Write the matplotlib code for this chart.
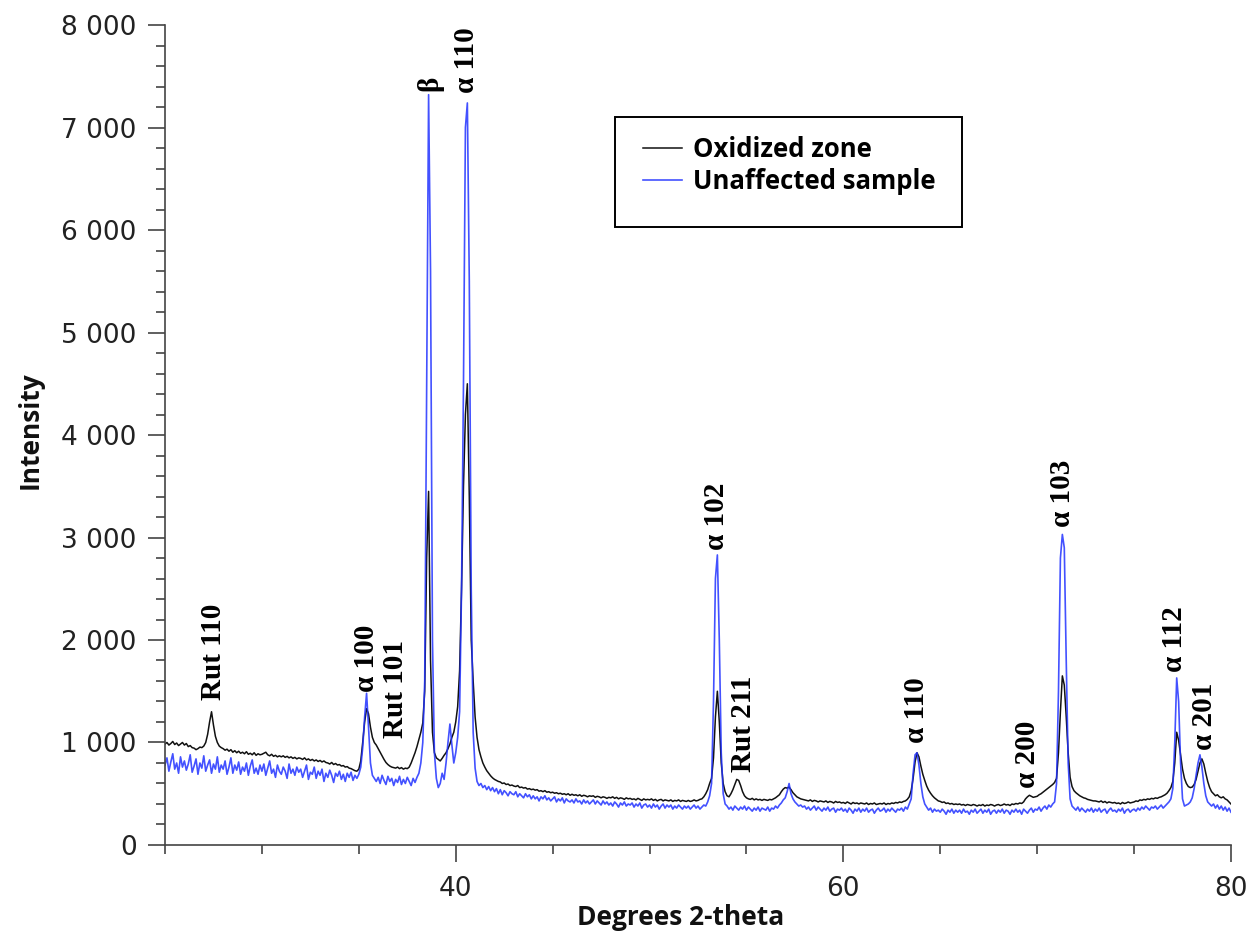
import numpy as np
import matplotlib.pyplot as plt
from matplotlib.ticker import FuncFormatter, MultipleLocator
from matplotlib.patches import Rectangle

# 2-theta grid: 25.0 .. 80.0 deg, 0.1 deg step (one row = one degree)
theta_start = 25.0
theta_step = 0.1

oxidized = [
    985, 1000, 975, 990, 1010, 980, 995, 970, 985, 1000,
    975, 990, 960, 970, 950, 945, 930, 940, 955, 950,
    965, 1000, 1080, 1200, 1300, 1170, 1060, 1000, 965, 950,
    940, 925, 935, 915, 930, 905, 920, 900, 915, 895,
    905, 890, 910, 885, 895, 880, 900, 875, 890, 880,
    885, 895, 905, 880, 870, 885, 865, 875, 860, 870,
    860, 870, 855, 865, 850, 860, 845, 855, 840, 850,
    845, 835, 850, 830, 840, 825, 835, 820, 830, 815,
    825, 810, 820, 805, 800, 790, 805, 785, 795, 780,
    785, 770, 775, 760, 765, 750, 745, 735, 725, 720,
    740, 820, 1000, 1200, 1330, 1280, 1150, 1050, 1000, 975,
    940, 905, 870, 835, 805, 785, 770, 760, 755, 750,
    760, 745, 755, 740, 750, 745, 760, 800, 850, 900,
    960, 1030, 1100, 1190, 1500, 2800, 3450, 1800, 1100, 900,
    850, 835, 820, 845, 875, 900, 940, 985, 1050, 1100,
    1200, 1350, 1700, 2500, 3500, 4200, 4500, 3400, 2000, 1600,
    1250, 1050, 930, 860, 800, 760, 725, 700, 675, 655,
    640, 630, 620, 615, 600, 605, 590, 595, 580, 585,
    575, 570, 580, 560, 565, 555, 560, 545, 550, 540,
    545, 535, 540, 525, 530, 520, 530, 515, 520, 510,
    515, 505, 510, 500, 505, 495, 500, 490, 500, 485,
    495, 485, 490, 480, 490, 475, 485, 480, 470, 480,
    475, 480, 465, 475, 470, 460, 470, 465, 455, 465,
    460, 470, 455, 465, 450, 460, 455, 445, 460, 450,
    455, 445, 450, 440, 455, 445, 435, 450, 440, 445,
    440, 450, 435, 445, 430, 440, 445, 430, 440, 435,
    430, 440, 425, 435, 430, 440, 425, 435, 430, 425,
    435, 425, 430, 440, 430, 435, 445, 450, 470, 500,
    540, 600, 650, 850, 1250, 1500, 1200, 800, 600, 520,
    480, 470, 500, 540, 590, 640, 630, 580, 520, 480,
    460, 450, 445, 455, 440, 450, 440, 445, 435, 445,
    440, 435, 445, 440, 450, 460, 475, 490, 520, 545,
    560, 555, 565, 540, 510, 490, 470, 460, 450, 445,
    440, 435, 430, 440, 425, 435, 430, 420, 430, 425,
    420, 430, 415, 425, 420, 410, 425, 415, 420, 410,
    415, 405, 420, 410, 400, 415, 405, 410, 400, 410,
    405, 400, 410, 395, 405, 400, 410, 395, 400, 405,
    400, 410, 395, 405, 400, 410, 405, 415, 410, 420,
    415, 425, 430, 445, 470, 530, 650, 810, 900, 860,
    770, 690, 630, 575, 535, 505, 480, 460, 445, 430,
    425, 415, 420, 405, 410, 400, 405, 395, 400, 395,
    400, 390, 395, 385, 395, 390, 385, 395, 390, 380,
    390, 385, 395, 380, 390, 385, 395, 390, 380, 390,
    395, 385, 390, 400, 390, 395, 385, 400, 395, 405,
    400, 410, 405, 420, 450, 470, 485, 475, 465, 470,
    475, 490, 500, 515, 530, 545, 560, 575, 590, 610,
    650, 900, 1300, 1650, 1560, 1250, 900, 660, 570, 530,
    510, 495, 480, 470, 460, 455, 445, 440, 435, 430,
    430, 425, 420, 430, 415, 425, 410, 420, 415, 410,
    415, 405, 410, 400, 415, 405, 410, 420, 410, 415,
    420, 430, 425, 440, 435, 445, 440, 450, 445, 455,
    450, 460, 455, 465, 470, 480, 490, 505, 530, 560,
    620, 800, 1100, 1020, 880, 740, 650, 600, 570, 560,
    565, 590, 640, 720, 800, 840, 790, 700, 620, 560,
    520, 500, 480, 490, 470, 460, 470, 450, 440, 420,
    400,
]

unaffected = [
    780, 850, 720, 810, 890, 740, 800, 700, 860, 760,
    820, 730, 790, 880, 710, 770, 840, 690, 800, 750,
    870, 720, 780, 830, 700, 790, 740, 860, 710, 780,
    740, 820, 690, 760, 850, 700, 780, 730, 810, 690,
    760, 720, 800, 680, 770, 830, 700, 750, 690, 780,
    720, 790, 680, 750, 820, 700, 740, 660, 780, 720,
    690, 760, 720, 650, 790, 700, 740, 680, 760, 710,
    740, 660, 720, 780, 640, 710, 690, 760, 650, 720,
    680, 740, 620, 700, 660, 730, 680, 610, 700, 670,
    720, 640, 690, 620, 700, 660, 710, 630, 680, 650,
    690, 760, 950, 1250, 1480, 1150, 800, 680, 650, 620,
    660, 600, 680, 630, 590, 670, 620, 650, 580, 640,
    610, 670, 590, 640, 600, 660, 620, 580, 650, 610,
    660, 700, 800, 1000, 1600, 4500, 7320, 5600, 2000, 900,
    650, 560, 600, 700, 640, 800, 1000, 1180, 980, 800,
    900, 1050, 1300, 2500, 4500, 7000, 7240, 5500, 2500, 1100,
    750, 620, 580, 600, 560, 580, 540, 570, 530, 560,
    520, 550, 500, 540, 490, 530, 510, 480, 520, 500,
    490, 520, 470, 500, 480, 460, 500, 470, 490, 450,
    480, 450, 470, 430, 470, 450, 480, 440, 460, 430,
    450, 470, 420, 450, 430, 460, 410, 450, 430, 420,
    440, 410, 450, 420, 430, 400, 440, 410, 430, 400,
    420, 440, 400, 430, 410, 390, 430, 400, 420, 390,
    410, 380, 420, 400, 370, 410, 390, 420, 380, 400,
    390, 410, 370, 400, 380, 410, 360, 390, 400, 370,
    390, 360, 400, 370, 390, 350, 380, 400, 360, 390,
    370, 390, 350, 380, 360, 390, 370, 350, 380, 360,
    380, 350, 370, 390, 360, 380, 350, 370, 390, 380,
    420, 480, 600, 1400, 2600, 2830, 2000, 900, 500, 400,
    380, 350, 370, 340, 380, 360, 340, 370, 350, 380,
    340, 370, 350, 330, 360, 340, 370, 330, 360, 350,
    340, 370, 330, 360, 350, 380, 360, 390, 410, 440,
    460, 520, 600, 500, 450, 420, 400, 380, 390, 370,
    380, 350, 370, 340, 360, 380, 340, 370, 350, 330,
    360, 340, 370, 330, 350, 360, 320, 350, 340, 360,
    330, 350, 320, 360, 340, 310, 350, 330, 360, 320,
    350, 330, 360, 320, 340, 350, 310, 340, 360, 330,
    340, 360, 320, 350, 330, 360, 340, 320, 350, 340,
    360, 330, 370, 350, 400, 450, 700, 880, 900, 780,
    600, 470, 400, 370, 340, 360, 320, 350, 330, 340,
    320, 350, 330, 300, 340, 320, 350, 310, 340, 320,
    340, 310, 350, 320, 330, 300, 340, 320, 350, 310,
    330, 350, 310, 340, 320, 350, 300, 330, 340, 310,
    340, 320, 350, 310, 340, 330, 300, 340, 320, 350,
    320, 340, 300, 350, 330, 310, 340, 360, 320, 350,
    340, 370, 330, 360, 380, 350, 390, 370, 400, 420,
    600, 1500, 2800, 3030, 2900, 1800, 800, 450, 380, 360,
    340, 370, 330, 360, 340, 320, 350, 330, 360, 320,
    350, 330, 360, 320, 340, 350, 310, 340, 360, 330,
    340, 320, 350, 330, 360, 310, 340, 350, 320, 340,
    350, 330, 360, 340, 370, 350, 380, 360, 340, 370,
    360, 380, 350, 370, 390, 360, 380, 400, 420, 450,
    550, 1000, 1630, 1400, 800, 450, 380, 390, 400, 420,
    460, 550, 680, 800, 880, 760, 600, 480, 420, 400,
    380, 400, 360, 390, 350, 380, 340, 370, 330, 360,
    320,
]

# peak labels: text, 2-theta, intensity at the lower end of the label
peak_names = ["Rut 110", "α 100", "Rut 101", "β", "α 110", "α 102", "Rut 211",
              "α 110", "α 200", "α 103", "α 112", "α 201"]
peak_pos = [27.5, 35.4, 36.9, 38.65, 40.57, 53.45, 54.85, 63.8, 69.5, 71.3, 77.1, 78.65]
peak_lab_y = [1415, 1490, 1045, 7360, 7340, 2880, 710, 995, 555, 3100, 1690, 925]

x = np.round(theta_start + theta_step * np.arange(len(oxidized)), 1)

fig = plt.figure(figsize=(12.52, 9.34), dpi=100)
ax = fig.add_axes([0.1318, 0.0953, 0.8514, 0.8779])

ax.plot(x, oxidized, color="#111111", linewidth=1.1, label="Oxidized zone")
ax.plot(x, unaffected, color="#2233ff", linewidth=1.2, alpha=0.85,
        label="Unaffected sample")

ax.set_xlim(25, 80)
ax.set_ylim(0, 8000)

for s in ["top", "right"]:
    ax.spines[s].set_visible(False)
for s in ["left", "bottom"]:
    ax.spines[s].set_color("#444444")
    ax.spines[s].set_linewidth(1.2)

ax.xaxis.set_major_locator(MultipleLocator(20))
ax.xaxis.set_minor_locator(MultipleLocator(5))
ax.yaxis.set_major_locator(MultipleLocator(1000))
ax.yaxis.set_minor_locator(MultipleLocator(200))
ax.yaxis.set_major_formatter(FuncFormatter(lambda v, p: f"{int(v):,}".replace(",", " ")))

ax.tick_params(which="major", length=12.5, width=1.2, color="#444444",
               labelsize=19, labelcolor="#222222")
ax.tick_params(which="minor", length=6.5, width=1.2, color="#444444")
ax.tick_params(axis="y", which="major", pad=8)
ax.tick_params(axis="x", which="major", pad=10)

ax.text(-0.1266, 0.506, "Intensity", transform=ax.transAxes, rotation=90,
        ha="center", va="center", fontsize=19, fontweight="bold",
        family="Open Sans", color="#111111")
ax.text(0.484, -0.088, "Degrees 2-theta", transform=ax.transAxes,
        ha="center", va="center", fontsize=19, fontweight="bold",
        family="Open Sans", color="#111111")

for name, px, py in zip(peak_names, peak_pos, peak_lab_y):
    ax.text(px, py, name, rotation=90, ha="center", va="bottom",
            fontsize=21, fontweight="bold", family="Liberation Serif")

# legend
ax.add_patch(Rectangle((0.422, 0.754), 0.326, 0.134, transform=ax.transAxes,
                       fill=False, edgecolor="black", linewidth=1.4, zorder=5))
ax.legend(loc="center left", bbox_to_anchor=(0.4484, 0.8287), frameon=False,
          borderpad=0, borderaxespad=0, handlelength=1.5, handletextpad=0.45,
          labelspacing=0.22, prop={"family": "Open Sans", "weight": "bold", "size": 18.5})

plt.savefig("out.png", dpi=100)
